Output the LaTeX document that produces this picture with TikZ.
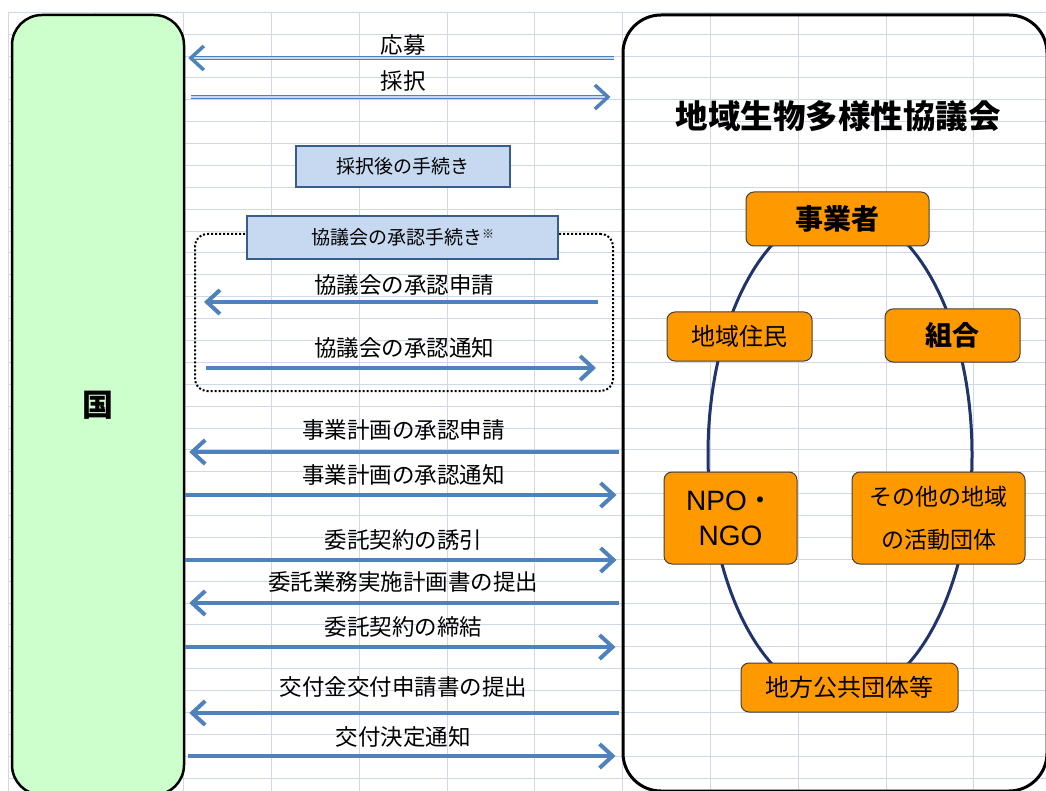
\documentclass[tikz,border=0pt]{standalone}
\usepackage{fontspec}
\setmainfont{Noto Sans CJK JP}
\newfontfamily\latinfont{Liberation Sans}
\usetikzlibrary{arrows.meta}

\definecolor{gridblue}{HTML}{D0D7E5}
\definecolor{kunigreen}{HTML}{CCFFCC}
\definecolor{arrowblue}{HTML}{4F81BD}
\definecolor{boxblue}{HTML}{C6D9F1}
\definecolor{boxedge}{HTML}{385D8A}
\definecolor{memberorange}{HTML}{FF9900}
\definecolor{ringnavy}{HTML}{1F3468}

\begin{document}
\begin{tikzpicture}[x=1pt, y=-1pt,
  gridline/.style = {gridblue, line width=1pt},
  party/.style = {draw=black, line width=2.5pt, rounded corners=30pt, inner sep=0pt},
  arr/.style = {arrowblue, line width=4pt, -{Straight Barb[length=13pt, width=24pt]}},
  dbl/.style = {arrowblue, line width=1.3pt, double=boxblue, double distance=1.2pt, -{Straight Barb[length=13pt, width=24pt, line width=3.5pt]}},
  lbl/.style = {text=black, font=\fontsize{22.5}{24}\selectfont, inner sep=0pt},
  note/.style = {draw=boxedge, fill=boxblue, line width=2.5pt, inner sep=0pt, font=\fontsize{19}{21}\selectfont},
  member/.style = {draw=black!75, fill=memberorange, line width=1pt, rounded corners=8pt, inner sep=0pt, align=center},
  frame/.style = {draw, dotted, line width=2pt, rounded corners=12pt}]
\useasboundingbox[fill=white] (0,0) rectangle (1046,791);

% spreadsheet grid
\foreach \gx in {0,...,11}
  \draw[gridline] ({8+87.8*\gx},12.3) -- ({8+87.8*\gx},791);
\foreach \gy in {0,...,35}
  \draw[gridline] (8,{12.3+21.88*\gy}) -- (1046,{12.3+21.88*\gy});

% the two parties
\node[party, fill=kunigreen, minimum width=172pt, minimum height=780pt, font=\bfseries\fontsize{31}{31}\selectfont] (kuni) at (98,405) {国};
\node[party, line width=3pt, rounded corners=38pt, minimum width=424pt, minimum height=776pt] (kyogi) at (835,403) {};
\node[font=\bfseries\fontsize{32.5}{33}\selectfont] (title) at (838,116) {地域生物多様性協議会};

% members of the council
\draw[ringnavy, line width=3pt] (840,454.5) ellipse [x radius=132, y radius=244.5];
\node[member, minimum width=183pt, minimum height=54pt, font=\bfseries\fontsize{28}{30}\selectfont] (jigyo) at (837.5,219) {事業者};
\node[member, minimum width=145pt, minimum height=49pt, font=\fontsize{24}{26}\selectfont] (jumin) at (739.5,336.5) {地域住民};
\node[member, minimum width=135pt, minimum height=53pt, font=\bfseries\fontsize{27}{29}\selectfont] (kumiai) at (952.5,335.5) {組合};
\node[member, minimum width=133pt, minimum height=92pt, font=\latinfont\fontsize{28}{35}\selectfont] (npo) at (730.5,518) {NPO{\normalfont ・}\\NGO};
\node[member, minimum width=173pt, minimum height=92pt, font=\fontsize{23}{43}\selectfont] (sonota) at (938.5,518) {その他の地域\\の活動団体};
\node[member, minimum width=217pt, minimum height=49pt, font=\fontsize{24}{26}\selectfont] (chiho) at (849.5,687.5) {地方公共団体等};

% steps after selection
\node[note, minimum width=214pt, minimum height=41pt] (saitaku) at (403,166.5) {採択後の手続き};
\node[frame, minimum width=418pt, minimum height=157pt] (waku) at (404,312.5) {};
\node[note, minimum width=311pt, minimum height=43pt] (shonin) at (402.5,237.5) {協議会の承認手続き{\fontsize{12}{12}\selectfont\raisebox{6pt}{※}}};

% messages
\draw[dbl, shorten <=8pt, shorten >=3pt] (kyogi.west |- 0,58) -- (kuni.east |- 0,58) node[lbl, midway, yshift=13] (oubo) {応募};
\draw[dbl, shorten <=6pt, shorten >=11pt] (kuni.east |- 0,97) -- (kyogi.west |- 0,97) node[lbl, midway, yshift=16] (saitakul) {採択};
\draw[arr, shorten <=16pt, shorten >=10pt] (waku.east |- 0,302) -- (waku.west |- 0,302) node[lbl, midway, yshift=17] (kshinsei) {協議会の承認申請};
\draw[arr, shorten <=12pt, shorten >=18pt] (waku.west |- 0,368) -- (waku.east |- 0,368) node[lbl, midway, yshift=20] (ktsuchi) {協議会の承認通知};
\draw[arr, shorten <=3pt, shorten >=4pt] (kyogi.west |- 0,452) -- (kuni.east |- 0,452) node[lbl, midway, yshift=22] (jshinsei) {事業計画の承認申請};
\draw[arr, shorten >=5pt] (kuni.east |- 0,495) -- (kyogi.west |- 0,495) node[lbl, midway, yshift=20] (jtsuchi) {事業計画の承認通知};
\draw[arr, shorten >=5pt] (kuni.east |- 0,560) -- (kyogi.west |- 0,560) node[lbl, midway, yshift=20] (yuuin) {委託契約の誘引};
\draw[arr, shorten <=3pt, shorten >=4pt] (kyogi.west |- 0,603) -- (kuni.east |- 0,603) node[lbl, midway, yshift=21] (teishutsu) {委託業務実施計画書の提出};
\draw[arr, shorten >=6pt] (kuni.east |- 0,647) -- (kyogi.west |- 0,647) node[lbl, midway, yshift=20] (teiketsu) {委託契約の締結};
\draw[arr, shorten <=3pt, shorten >=4pt] (kyogi.west |- 0,713) -- (kuni.east |- 0,713) node[lbl, midway, yshift=26] (koufushinsei) {交付金交付申請書の提出};
\draw[arr, shorten <=3pt, shorten >=6pt] (kuni.east |- 0,756) -- (kyogi.west |- 0,756) node[lbl, midway, yshift=19] (kettei) {交付決定通知};
\end{tikzpicture}
\end{document}
